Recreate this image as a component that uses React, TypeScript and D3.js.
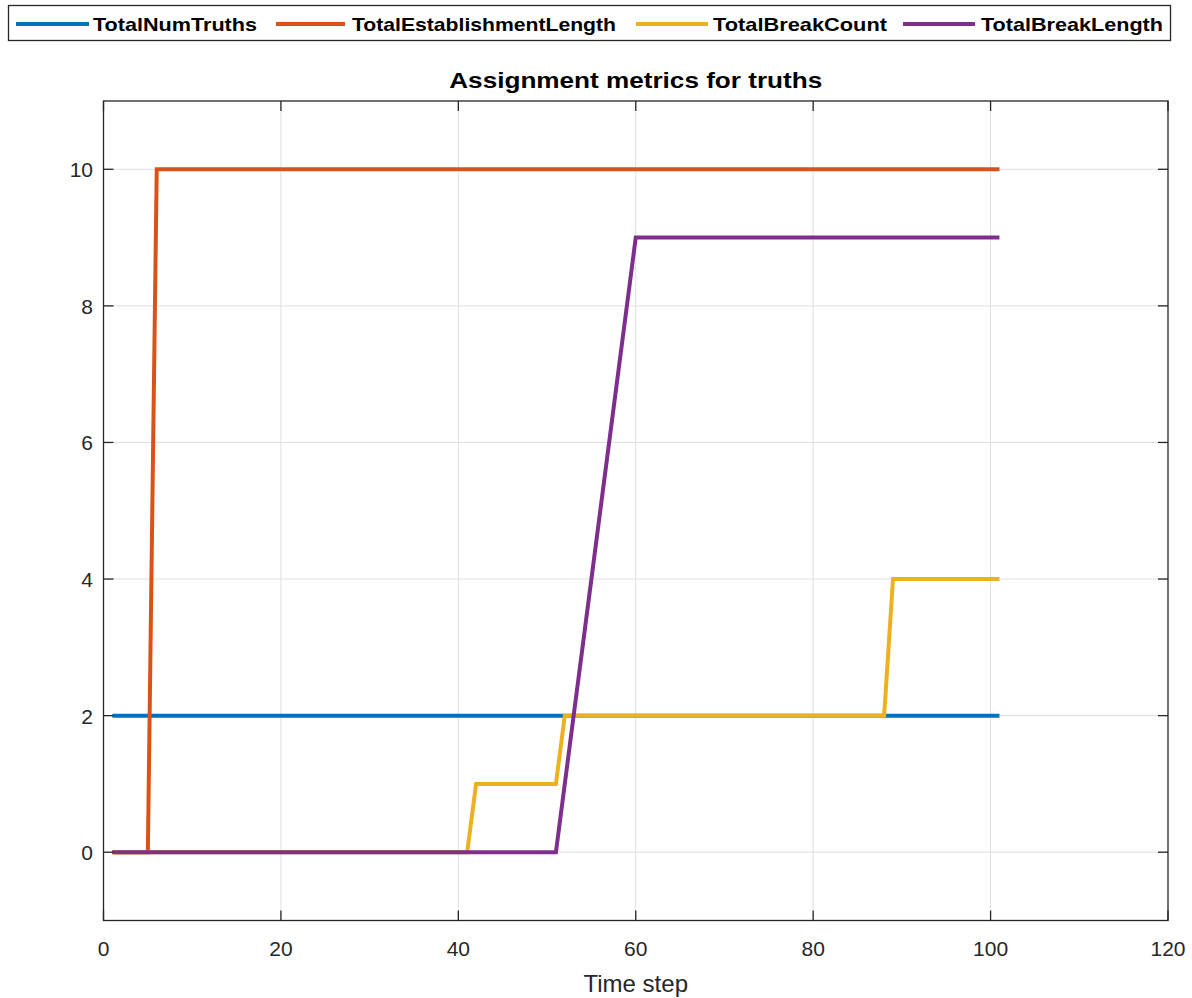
import React from "react";
import * as d3 from "d3";

// Series given as breakpoints [time step, value]; straight segments between them
const totalNumTruths: [number, number][] = [[1, 2], [101, 2]];
const totalEstablishmentLength: [number, number][] = [[1, 0], [5, 0], [6, 10], [101, 10]];
const totalBreakCount: [number, number][] = [[1, 0], [41, 0], [42, 1], [51, 1], [52, 2], [88, 2], [89, 4], [101, 4]];
const totalBreakLength: [number, number][] = [[1, 0], [51, 0], [60, 9], [101, 9]];

const seriesNames = ["TotalNumTruths", "TotalEstablishmentLength", "TotalBreakCount", "TotalBreakLength"];
const seriesColors = ["#0072BD", "#D95319", "#EDB120", "#7E2F8E"];
const xTicks = [0, 20, 40, 60, 80, 100, 120];
const yTicks = [0, 2, 4, 6, 8, 10];

const W = 1192, H = 998;
const L = 103.5, R = 1168, T = 101, B = 920.5;
const FONT = "'Liberation Sans', Arial, Helvetica, sans-serif";
const AX = "#262626";

export default function App() {
  const x = d3.scaleLinear().domain([0, 120]).range([L, R]);
  const y = d3.scaleLinear().domain([-1, 11]).range([B, T]);
  const line = d3.line<[number, number]>().x(d => x(d[0])).y(d => y(d[1]));
  const series = [totalNumTruths, totalEstablishmentLength, totalBreakCount, totalBreakLength];

  // legend layout (line sample start, line end, text start, text width)
  const legendItems = [
    { l0: 16, l1: 89, tx: 93, tw: 164 },
    { l0: 276, l1: 345, tx: 352, tw: 264 },
    { l0: 636, l1: 708, tx: 713, tw: 174 },
    { l0: 903, l1: 975, tx: 981, tw: 182 },
  ];
  const tick = 10;

  return (
    <svg width={W} height={H} style={{ position: "absolute", left: 0, top: 0, background: "#fff" }}>
      <rect x={0} y={0} width={W} height={H} fill="#fff" />
      {/* grid */}
      <g stroke="#dfdfdf" strokeWidth={1}>
        {xTicks.slice(1, -1).map(t => (
          <line key={"gx" + t} x1={x(t)} x2={x(t)} y1={T} y2={B} />
        ))}
        {yTicks.map(t => (
          <line key={"gy" + t} x1={L} x2={R} y1={y(t)} y2={y(t)} />
        ))}
      </g>
      {/* series */}
      <g fill="none" strokeWidth={4} strokeLinejoin="miter" strokeLinecap="butt">
        {series.map((s, i) => (
          <path key={i} d={line(s) || ""} stroke={seriesColors[i]} />
        ))}
      </g>
      {/* axes box and ticks */}
      <rect x={L} y={T} width={R - L} height={B - T} fill="none" stroke={AX} strokeWidth={1.3} />
      <g stroke={AX} strokeWidth={1.3}>
        {xTicks.map(t => (
          <g key={"tx" + t}>
            <line x1={x(t)} x2={x(t)} y1={B} y2={B - tick} />
            <line x1={x(t)} x2={x(t)} y1={T} y2={T + tick} />
          </g>
        ))}
        {yTicks.map(t => (
          <g key={"ty" + t}>
            <line x1={L} x2={L + tick} y1={y(t)} y2={y(t)} />
            <line x1={R} x2={R - tick} y1={y(t)} y2={y(t)} />
          </g>
        ))}
      </g>
      {/* tick labels */}
      <g fontFamily={FONT} fontSize={21} fill={AX}>
        {xTicks.map(t => (
          <text key={"lx" + t} x={x(t)} y={956} textAnchor="middle">{t}</text>
        ))}
        {yTicks.map(t => (
          <text key={"ly" + t} x={93} y={y(t) + 8} textAnchor="end">{t}</text>
        ))}
      </g>
      <text x={(L + R) / 2} y={992} textAnchor="middle" fontFamily={FONT} fontSize={24} fill={AX}>Time step</text>
      <text x={(L + R) / 2} y={88} textAnchor="middle" fontFamily={FONT} fontSize={22} fontWeight="bold" fill="#000"
        textLength={373} lengthAdjust="spacingAndGlyphs">Assignment metrics for truths</text>
      {/* legend */}
      <rect x={8.5} y={5.5} width={1162} height={35} fill="#fff" stroke={AX} strokeWidth={1.3} />
      {legendItems.map((it, i) => (
        <g key={"lg" + i}>
          <line x1={it.l0} x2={it.l1} y1={24} y2={24} stroke={seriesColors[i]} strokeWidth={4} />
          <text x={it.tx} y={31} fontFamily={FONT} fontSize={19} fontWeight="bold" fill="#000"
            textLength={it.tw} lengthAdjust="spacingAndGlyphs">{seriesNames[i]}</text>
        </g>
      ))}
    </svg>
  );
}
